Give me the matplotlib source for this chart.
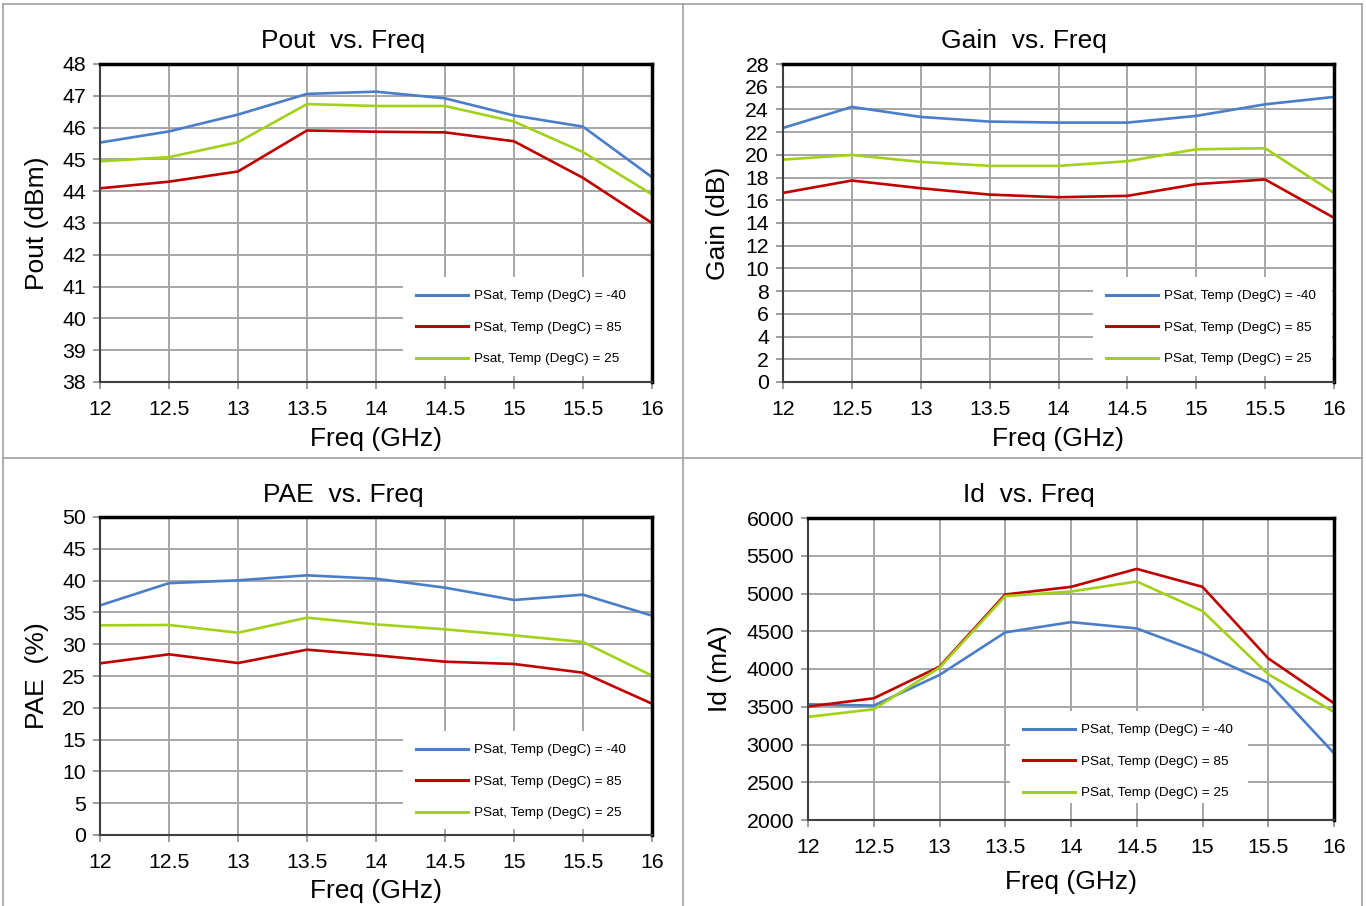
import numpy as np
import matplotlib
matplotlib.use("Agg")
import matplotlib.pyplot as plt
from matplotlib.lines import Line2D

plt.rcParams['font.family'] = ['Liberation Sans', 'DejaVu Sans']

freq = [12, 12.5, 13, 13.5, 14, 14.5, 15, 15.5, 16]

pout_m40 = [45.53, 45.88, 46.41, 47.06, 47.13, 46.92, 46.38, 46.03, 44.44]
pout_85 = [44.09, 44.30, 44.62, 45.91, 45.87, 45.85, 45.57, 44.42, 43.00]
pout_25 = [44.94, 45.07, 45.54, 46.74, 46.68, 46.68, 46.19, 45.23, 43.90]

gain_m40 = [22.37, 24.22, 23.34, 22.93, 22.84, 22.84, 23.43, 24.45, 25.10]
gain_85 = [16.65, 17.74, 17.06, 16.50, 16.27, 16.39, 17.42, 17.83, 14.46]
gain_25 = [19.58, 19.99, 19.38, 19.03, 19.03, 19.44, 20.49, 20.58, 16.65]

pae_m40 = [36.1, 39.6, 40.04, 40.83, 40.30, 38.89, 36.95, 37.79, 34.49]
pae_85 = [26.99, 28.41, 27.04, 29.14, 28.25, 27.25, 26.89, 25.52, 20.65]
pae_25 = [32.97, 33.02, 31.81, 34.17, 33.12, 32.34, 31.39, 30.35, 25.05]

id_m40 = [3533, 3515, 3921, 4485, 4621, 4537, 4211, 3819, 2885]
id_85 = [3502, 3612, 4031, 4987, 5088, 5326, 5088, 4141, 3546]
id_25 = [3366, 3467, 4018, 4965, 5026, 5159, 4767, 3930, 3432]

lbl_m40 = 'PSat, Temp (DegC) = -40'
lbl_85 = 'PSat, Temp (DegC) = 85'
lbl_25_pout = 'Psat, Temp (DegC) = 25'
lbl_25 = 'PSat, Temp (DegC) = 25'

BLUE = '#4a7ec8'
RED = '#c00000'
GREEN = '#a3d119'

W, H = 1366, 906
fig = plt.figure(figsize=(W / 100, H / 100), dpi=100)


def px_axes(l, r, t, b):
    return fig.add_axes([l / W, 1 - b / H, (r - l) / W, (b - t) / H])


def ftext(x, y, s, **kw):
    fig.text(x / W, 1 - y / H, s, **kw)


def setup(ax, ylim, yticks, leg_box, labels, series):
    for vals, c, lab in zip(series, [BLUE, RED, GREEN], labels):
        ax.plot(freq, vals, color=c, lw=1.9, label=lab, solid_joinstyle='round')
    ax.set_xlim(12, 16)
    ax.set_ylim(*ylim)
    ax.set_xticks(freq)
    ax.set_xticklabels(['12', '12.5', '13', '13.5', '14', '14.5', '15', '15.5', '16'])
    ax.set_yticks(yticks)
    ax.grid(True, color='#a6a6a6', lw=1.4)
    ax.set_axisbelow(True)
    ax.tick_params(labelsize=15.3, length=5, width=1.2, color='#8c8c8c')
    ax.tick_params(axis='x', pad=8)
    ax.tick_params(axis='y', pad=5)
    for s in ['top', 'right']:
        ax.spines[s].set_color('black')
        ax.spines[s].set_linewidth(2.5)
    for s in ['left', 'bottom']:
        ax.spines[s].set_color('#404040')
        ax.spines[s].set_linewidth(1.5)
    # white panel behind the legend hides the grid there
    l, r, t, b = leg_box
    bb = ax.get_position()
    fx = lambda p: (p / W - bb.x0) / bb.width
    fy = lambda p: ((1 - p / H) - bb.y0) / bb.height
    ax.add_patch(plt.Rectangle((fx(l), fy(b)), fx(r) - fx(l), fy(t) - fy(b),
                               transform=ax.transAxes, facecolor='white',
                               edgecolor='none', zorder=1.5))
    leg = ax.legend(loc='upper left', bbox_to_anchor=(fx(l), fy(t)),
                    frameon=False, fontsize=9.7, handlelength=3.9,
                    handletextpad=0.45, labelspacing=1.42, borderpad=0.95,
                    borderaxespad=0)
    for h in leg.get_lines():
        h.set_linewidth(2.2)


ax1 = px_axes(100, 652, 64, 382)
setup(ax1, (38, 48), range(38, 49), (403, 652, 277, 376),
      [lbl_m40, lbl_85, lbl_25_pout], [pout_m40, pout_85, pout_25])

ax2 = px_axes(783, 1334, 64, 382)
setup(ax2, (0, 28), range(0, 29, 2), (1093, 1332, 277, 376),
      [lbl_m40, lbl_85, lbl_25], [gain_m40, gain_85, gain_25])

ax3 = px_axes(100, 652, 517, 835)
setup(ax3, (0, 50), range(0, 51, 5), (403, 652, 731, 829),
      [lbl_m40, lbl_85, lbl_25], [pae_m40, pae_85, pae_25])

ax4 = px_axes(808, 1334, 518, 820)
setup(ax4, (2000, 6000), range(2000, 6001, 500), (1010, 1248, 711, 803),
      [lbl_m40, lbl_85, lbl_25], [id_m40, id_85, id_25])

# titles and axis labels
big = dict(fontsize=19, ha='center', va='center')
ftext(343, 41, 'Pout  vs. Freq', **big)
ftext(1024, 41, 'Gain  vs. Freq', **big)
ftext(343, 495, 'PAE  vs. Freq', **big)
ftext(1029, 495, 'Id  vs. Freq', **big)

ftext(376, 439, 'Freq (GHz)', **big)
ftext(1058, 439, 'Freq (GHz)', **big)
ftext(376, 891, 'Freq (GHz)', **big)
ftext(1071, 882, 'Freq (GHz)', **big)

ftext(37, 223, 'Pout (dBm)', rotation=90, **big)
ftext(718, 223, 'Gain (dB)', rotation=90, **big)
ftext(37, 676, 'PAE  (%)', rotation=90, **big)
ftext(720, 669, 'Id (mA)', rotation=90, **big)

# quadrant borders
border = dict(color='#a0a0a0', lw=1.2, transform=fig.transFigure)
for (xa, ya, xb, yb) in [(3, 4, 1362, 4), (3, 458, 1362, 458), (3, 4, 3, 906),
                         (683, 4, 683, 906), (1362, 4, 1362, 906)]:
    fig.add_artist(Line2D([xa / W, xb / W], [1 - ya / H, 1 - yb / H], **border))

fig.savefig('out.png', dpi=100, facecolor='white')
